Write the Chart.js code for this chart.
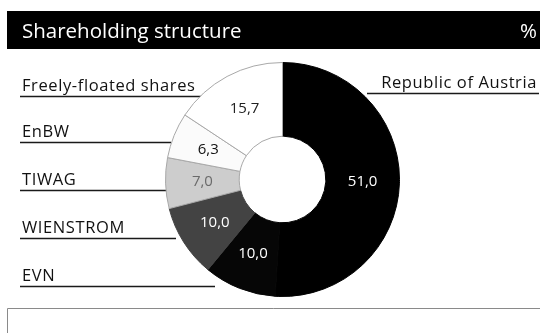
<!DOCTYPE html>
<html>
<head>
<meta charset="utf-8">
<script src="https://cdn.jsdelivr.net/npm/chart.js@4.4.1/dist/chart.umd.min.js"></script>
<style>
  html, body { margin: 0; padding: 0; background: #fff; }
  #wrap { width: 547px; height: 333px; position: relative; }
</style>
</head>
<body>
<div id="wrap"><canvas id="c" width="547" height="333"></canvas></div>
<script>
// ---- data ----
const title = 'Shareholding structure';
const unit = '%';
const categories = ['Republic of Austria', 'EVN', 'WIENSTROM', 'TIWAG', 'EnBW', 'Freely-floated shares'];
const shares = [51.0, 10.0, 10.0, 7.0, 6.3, 15.7];

// ---- styles ----
const sliceColors = ['#000000', '#060606', '#434343', '#cdcdcd', '#fbfbfb', '#ffffff'];
const sliceBorders = ['#000000', '#060606', '#434343', '#a8a8a8', '#a8a8a8', '#a8a8a8'];
const valueColors = ['#ffffff', '#ffffff', '#ffffff', '#6a6a6a', '#111111', '#222222'];
const FONT = '"Open Sans", "Noto Sans", sans-serif';

// layout of category captions (index -> position)
const captionLayout = {
  0: { x: 537, y: 88, lineFrom: 367, lineTo: 539, align: 'right' },
  5: { x: 22, y: 91, lineFrom: 20, lineTo: 203 },
  4: { x: 22, y: 137, lineFrom: 20, lineTo: 171 },
  3: { x: 22, y: 185, lineFrom: 20, lineTo: 167 },
  2: { x: 22, y: 233, lineFrom: 20, lineTo: 176 },
  1: { x: 22, y: 281, lineFrom: 20, lineTo: 215 }
};

const fmt = v => v.toFixed(1).replace('.', ',');

const decor = {
  id: 'decor',
  beforeDraw(chart) {
    const ctx = chart.ctx;
    ctx.save();
    // title bar
    ctx.fillStyle = '#000';
    ctx.fillRect(7, 11, 533, 38);
    ctx.fillStyle = '#fff';
    ctx.font = '20.5px ' + FONT;
    ctx.textBaseline = 'alphabetic';
    ctx.textAlign = 'left';
    ctx.fillText(title, 22, 38);
    ctx.textAlign = 'right';
    ctx.fillText(unit, 537, 38);
    // bottom frame line
    ctx.strokeStyle = '#8a8a8a';
    ctx.lineWidth = 1;
    ctx.beginPath();
    ctx.moveTo(7.5, 333);
    ctx.lineTo(7.5, 308.5);
    ctx.lineTo(540, 308.5);
    ctx.stroke();
    // category captions
    ctx.font = '16.5px ' + FONT;
    if ('letterSpacing' in ctx) ctx.letterSpacing = '0.6px';
    categories.forEach((name, i) => {
      const p = captionLayout[i];
      if (!p) return;
      ctx.fillStyle = '#111';
      ctx.textAlign = p.align || 'left';
      ctx.fillText(name, p.x, p.y);
      ctx.strokeStyle = '#1a1a1a';
      ctx.lineWidth = 1.6;
      ctx.beginPath();
      ctx.moveTo(p.lineFrom, p.y + 5.5);
      ctx.lineTo(p.lineTo, p.y + 5.5);
      ctx.stroke();
    });
    ctx.restore();
  },
  afterDatasetsDraw(chart) {
    const ctx = chart.ctx;
    const meta = chart.getDatasetMeta(0);
    ctx.save();
    ctx.font = '15px ' + FONT;
    ctx.textAlign = 'center';
    ctx.textBaseline = 'middle';
    meta.data.forEach((arc, i) => {
      const pos = arc.tooltipPosition();
      ctx.fillStyle = valueColors[i];
      ctx.fillText(fmt(shares[i]), pos.x, pos.y);
    });
    ctx.restore();
  }
};

new Chart(document.getElementById('c'), {
  type: 'doughnut',
  data: {
    labels: categories,
    datasets: [{
      data: shares,
      backgroundColor: sliceColors,
      borderColor: sliceBorders,
      borderWidth: 1
    }]
  },
  options: {
    responsive: false,
    devicePixelRatio: 1,
    animation: false,
    cutout: '37%',
    layout: { padding: { left: 165, right: 147, top: 62, bottom: 36 } },
    plugins: { legend: { display: false }, tooltip: { enabled: false }, title: { display: false } }
  },
  plugins: [decor]
});
</script>
</body>
</html>
